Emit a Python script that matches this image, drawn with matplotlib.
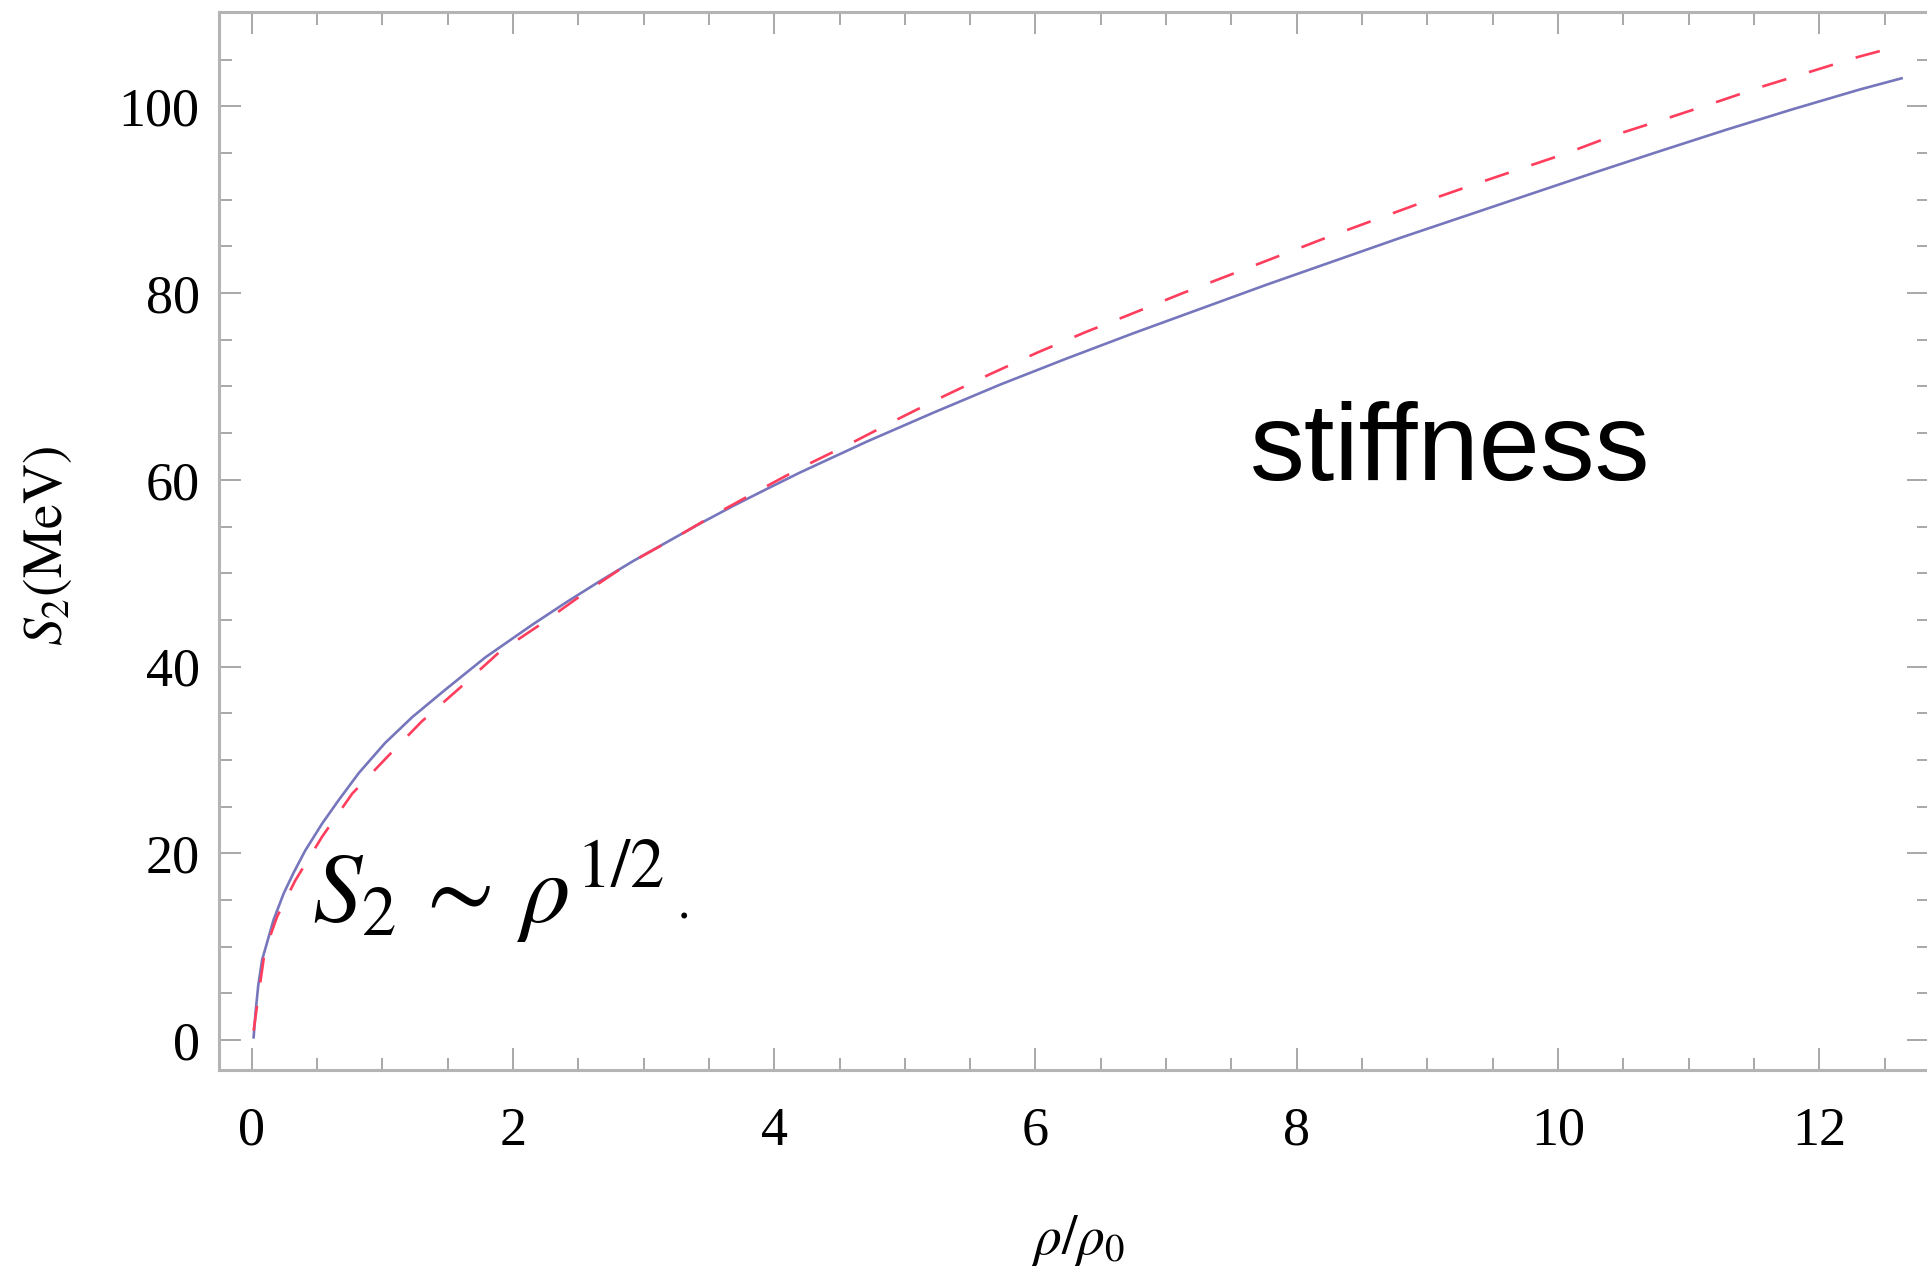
import matplotlib
matplotlib.use("Agg")
import matplotlib.pyplot as plt
from matplotlib.ticker import MultipleLocator

# values (rho/rho0, S2 in MeV)
rho_blue = [0.015, 0.03, 0.05, 0.08, 0.117, 0.168, 0.245, 0.32, 0.41, 0.54,
            0.666, 0.82, 1.02, 1.23, 1.48, 1.79, 2.15, 2.41, 2.66, 2.92,
            3.175, 3.43, 3.685, 3.94, 4.2, 4.71, 5.22, 5.73, 6.24, 6.75,
            7.26, 7.77, 8.28, 8.79, 9.3, 9.81, 10.3, 10.78, 11.29, 11.8,
            12.31, 12.63]
s2_blue = [0.3, 3.0, 5.8, 8.6, 10.4, 12.9, 15.7, 17.9, 20.3, 23.2,
           25.7, 28.6, 31.8, 34.6, 37.5, 41.0, 44.5, 46.9, 49.1, 51.3,
           53.3, 55.3, 57.2, 59.0, 60.8, 64.1, 67.2, 70.2, 73.0, 75.7,
           78.3, 80.9, 83.4, 85.9, 88.3, 90.7, 93.0, 95.2, 97.5, 99.7,
           101.8, 103.0]

rho_red = [0.015, 0.054, 0.10, 0.194, 0.334, 0.54, 0.77, 1.05, 1.30, 1.60,
           1.90, 2.22, 2.54, 2.87, 3.23, 3.56, 3.90, 4.22, 4.60, 4.96,
           5.29, 5.65, 6.01, 6.38, 6.74, 7.11, 7.48, 7.85, 8.22, 8.57,
           8.94, 9.33, 9.71, 10.05, 10.43, 10.81, 11.18, 11.56, 11.93, 12.30,
           12.62]
s2_red = [1.0, 5.0, 9.5, 13.2, 17.1, 21.8, 26.4, 30.5, 34.1, 37.8,
          41.6, 44.6, 47.8, 50.9, 53.7, 56.4, 59.0, 61.4, 64.0, 66.6,
          68.9, 71.3, 73.6, 75.8, 77.8, 79.9, 81.9, 83.9, 85.9, 87.7,
          89.6, 91.5, 93.3, 94.9, 96.9, 98.6, 100.3, 102.1, 103.7, 105.3,
          106.5]

plt.rcParams["mathtext.fontset"] = "stix"
plt.rcParams["font.family"] = ["Liberation Serif", "DejaVu Serif"]

fig = plt.figure(figsize=(19.27, 12.66), dpi=100)
ax = fig.add_axes([219 / 1927, 1 - 1070 / 1266, (1929 - 219) / 1927, (1070 - 12) / 1266])

ax.plot(rho_blue, s2_blue, color="#7676bd", lw=1.9)
ax.plot(rho_red, s2_red, color="#ff3d5c", lw=1.9, dashes=(9.5, 9))

ax.set_xlim(-0.25, 12.84)
ax.set_ylim(-3.2, 110.1)

ax.xaxis.set_major_locator(MultipleLocator(2))
ax.xaxis.set_minor_locator(MultipleLocator(0.5))
ax.yaxis.set_major_locator(MultipleLocator(20))
ax.yaxis.set_minor_locator(MultipleLocator(5))

ax.tick_params(which="both", direction="in", top=True, right=True,
               color="#a8a8a8", width=1.4, labelsize=39)
ax.tick_params(which="major", length=16)
ax.tick_params(which="minor", length=9)
ax.tick_params(axis="y", pad=14)
ax.tick_params(axis="x", pad=26)

for sp in ax.spines.values():
    sp.set_color("#b4b4b4")
    sp.set_linewidth(2.2)

# annotations
ax.text(7.64, 60.0, "stiffness", fontsize=79, family="Liberation Sans", va="baseline")
ax.text(0.46, 12.6, r"$S_2\,\sim\,\rho^{1/2}$", fontsize=71, va="baseline")
ax.text(3.26, 13.0, ".", fontsize=36, va="baseline")

fig.text(1078 / 1927, 1 - 1241 / 1266, r"$\rho/\rho_0$", ha="center", va="center", fontsize=40)
fig.text(48 / 1927, 1 - 546 / 1266, r"$S_2\mathrm{(MeV)}$", ha="center", va="center",
         rotation=90, fontsize=40)

fig.savefig("out.png", dpi=100)
